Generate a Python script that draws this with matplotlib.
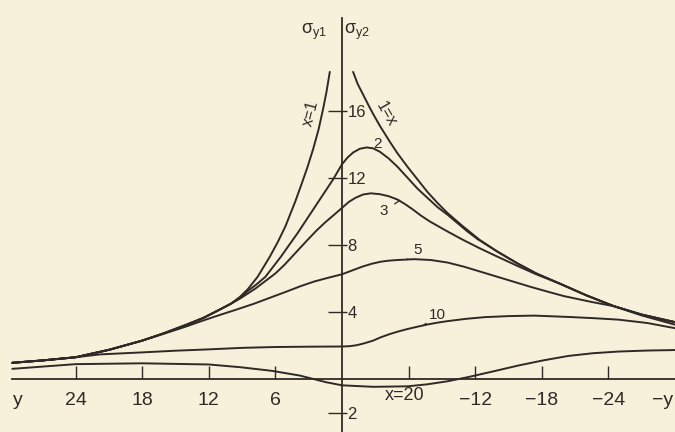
import matplotlib
matplotlib.use('Agg')
import matplotlib.pyplot as plt

# distance along the edge (y, positive to the left) and stress values
y_x1_left = [29.7, 27, 24, 21, 18, 16, 14, 12.5, 11.3, 10, 9.2, 8.5, 7.6, 6.5, 5.8, 5.1,
             4.2, 3.6, 3.1, 2.6, 2.1, 1.7, 1.4, 1.1]
s_x1_left = [0.98, 1.12, 1.31, 1.75, 2.3, 2.75, 3.25, 3.65, 4.05, 4.5, 4.9, 5.35, 6.1, 7.3, 8.15, 9.1,
             10.6, 11.7, 12.65, 13.7, 14.9, 16.1, 17.1, 18.3]

y_x1_right = [-1.0, -1.4, -1.9, -2.4, -2.8, -3.4, -4.3, -5.0, -5.9, -6.8, -7.7, -8.6, -9.5, -10.9,
              -12.4, -14.0, -15.8, -17.5, -19.6, -22.0, -24.5, -27.0, -30.0]
s_x1_right = [18.3, 17.6, 16.95, 16.3, 15.8, 15.1, 14.15, 13.45, 12.65, 11.9, 11.15, 10.5, 9.9, 9.1,
              8.3, 7.6, 6.9, 6.3, 5.7, 5.0, 4.35, 3.85, 3.4]

y_x2 = [29.7, 27, 24, 21, 18, 16, 14, 12.5, 11.3, 10, 9.2, 8.5, 7.7, 6.9, 6.2, 5.5, 4.7, 4.0,
        3.4, 2.8, 2.3, 1.8, 1.3, 0.8, 0.4, 0, -0.5, -1.0, -1.6, -2.2, -2.8, -3.4, -4.2, -5.0,
        -5.9, -6.8, -7.7, -8.6, -9.5, -10.4, -11.3, -12.2, -14.0, -15.8, -17.5, -19.6, -22.0,
        -24.5, -27.0, -30.0]
s_x2 = [0.98, 1.12, 1.31, 1.75, 2.3, 2.75, 3.25, 3.65, 4.05, 4.5, 4.85, 5.25, 5.65, 6.1, 6.7, 7.3, 8.05, 8.7,
        9.3, 9.9, 10.4, 10.9, 11.4, 11.9, 12.35, 12.8, 13.2, 13.5, 13.72, 13.8, 13.75, 13.55, 13.15, 12.65,
        12.0, 11.35, 10.8, 10.25, 9.8, 9.3, 8.8, 8.35, 7.6, 6.9, 6.3, 5.7, 5.0,
        4.35, 3.85, 3.4]

y_x3 = [29.7, 27, 24, 21, 18, 16, 14, 12.5, 11.3, 10, 9.2, 8.5, 7.8, 7.2, 6.0, 5.2, 4.5, 3.8,
        3.1, 2.3, 1.5, 0.7, 0, -0.6, -1.2, -1.9, -2.6, -3.4, -4.2, -5.0, -5.7, -6.4, -7.1, -7.9,
        -8.7, -9.5, -10.9, -12.4, -14.0, -15.8, -17.5, -19.6, -22.0, -24.5, -27.0, -30.0]
s_x3 = [0.98, 1.12, 1.31, 1.75, 2.3, 2.75, 3.25, 3.65, 4.05, 4.5, 4.8, 5.1, 5.4, 5.7, 6.3, 6.8, 7.3, 7.8,
        8.3, 8.85, 9.35, 9.8, 10.2, 10.55, 10.8, 11.0, 11.07, 11.02, 10.9, 10.7, 10.42, 10.1, 9.75, 9.4,
        9.1, 8.8, 8.3, 7.8, 7.3, 6.75, 6.25, 5.7, 5.0, 4.35, 3.85, 3.4]

y_x5 = [29.7, 27, 24, 21, 18, 16, 14, 12.5, 11, 9.5, 8, 6.5, 5, 3.7, 2.5, 1.2, 0, -1.0, -1.9,
        -2.7, -3.5, -4.2, -5.0, -6.5, -8.0, -9.5, -11.0, -12.5, -14.0, -15.5, -17.0, -18.5, -20.0,
        -22.5, -24.5, -27.0, -30.0]
s_x5 = [0.98, 1.12, 1.31, 1.75, 2.3, 2.72, 3.15, 3.5, 3.83, 4.15, 4.48, 4.85, 5.22, 5.55, 5.82, 6.05, 6.25,
        6.5, 6.72, 6.88, 7.0, 7.06, 7.1, 7.15, 7.1, 6.95, 6.7, 6.4, 6.1, 5.8, 5.5, 5.22, 4.95,
        4.6, 4.35, 3.8, 3.25]

y_x10 = [29.7, 27, 24, 21.8, 18, 15, 12, 9, 6, 3, 0, -0.7, -1.35, -2.0, -2.8, -3.5, -4.3, -5.1,
         -5.9, -6.8, -7.7, -8.6, -9.5, -11.2, -12.9, -15.0, -17.3, -20.4, -22.6, -24.9, -27.5, -30.0]
s_x10 = [0.98, 1.12, 1.31, 1.48, 1.6, 1.7, 1.78, 1.87, 1.92, 1.94, 1.95, 1.97, 2.03, 2.14, 2.3, 2.5, 2.69, 2.85,
         2.99, 3.13, 3.26, 3.37, 3.46, 3.6, 3.7, 3.76, 3.79, 3.71, 3.64, 3.55, 3.35, 3.04]

y_x20 = [29.7, 24, 18, 12, 9.2, 6.3, 3.8, 3.2, 1.4, 0, -2.8, -5.9, -7.7, -9.5, -11.3, -13.5,
         -15.9, -18.1, -20.4, -22.6, -24.9, -27.5, -30.0]
s_x20 = [0.62, 0.9, 0.95, 0.88, 0.72, 0.5, 0.22, 0.12, -0.18, -0.36, -0.45, -0.42, -0.3, -0.12, 0.12, 0.45,
         0.82, 1.12, 1.39, 1.55, 1.65, 1.71, 1.74]

y_ticks = [24, 18, 12, 6, -6, -12, -18, -24]
y_tick_labels = ['24', '18', '12', '6', '', '−12', '−18', '−24']
s_ticks = [16, 12, 8, 4, -2]
s_tick_labels = ['16', '12', '8', '4', '2']

paper = '#f7f1dc'
ink = '#2f2a26'

plt.rcParams['font.family'] = ['Liberation Sans', 'DejaVu Sans']

fig = plt.figure(figsize=(6.75, 4.32), dpi=100, facecolor=paper)
ax = fig.add_axes([0, 0, 1, 1], facecolor=paper)
ax.set_xlim(30.81, -30.0)
ax.set_ylim(-3.14, 22.58)

curves = [(y_x1_left, s_x1_left), (y_x1_right, s_x1_right), (y_x2, s_x2), (y_x3, s_x3),
          (y_x5, s_x5), (y_x10, s_x10), (y_x20, s_x20)]
for ys, ss in curves:
    ax.plot(ys, ss, color=ink, lw=1.4, solid_joinstyle='round', solid_capstyle='round')

# axes through the origin
ax.spines['top'].set_visible(False)
ax.spines['left'].set_visible(False)
ax.spines['bottom'].set_position(('data', 0))
ax.spines['bottom'].set_bounds(-30.0, 29.7)
ax.spines['right'].set_position(('data', 0))
ax.spines['right'].set_bounds(-3.14, 21.5)
for s in ['bottom', 'right']:
    ax.spines[s].set_color(ink)
    ax.spines[s].set_linewidth(1.3)

ax.xaxis.tick_bottom()
ax.yaxis.tick_right()
ax.set_xticks(y_ticks)
ax.set_xticklabels(y_tick_labels)
ax.tick_params(axis='x', direction='in', length=9.5, width=1.0, pad=9, labelsize=14,
               color=ink, labelcolor=ink)
ax.set_yticks(s_ticks)
ax.set_yticklabels(s_tick_labels)
ax.set_yticks(s_ticks, minor=True)
ax.yaxis.remove_overlapping_locs = False
ax.tick_params(axis='y', which='major', direction='in', length=10, width=1.0, pad=4,
               labelsize=12, color=ink, labelcolor=ink)
ax.tick_params(axis='y', which='minor', direction='out', length=3.5, width=1.0, color=ink)

# axis names
ax.annotate('y', xy=(29.2, 0), xytext=(0, -9), textcoords='offset points',
            ha='center', va='top', fontsize=14, color=ink)
ax.annotate('−y', xy=(-29.85, 0), xytext=(0, -9), textcoords='offset points',
            ha='right', va='top', fontsize=14, color=ink)
ax.text(1.35, 20.7, r'$\mathregular{σ_{y1}}$', ha='right', va='center', fontsize=13, color=ink)
ax.text(-0.15, 20.7, r'$\mathregular{σ_{y2}}$', ha='left', va='center', fontsize=13, color=ink)

# curve labels
ax.text(2.8, 15.85, 'x=1', rotation=76, ha='center', va='center', fontsize=11.5, color=ink)
ax.text(-3.95, 15.8, '1=x', rotation=-60, ha='center', va='center', fontsize=11.5, color=ink)
ax.annotate('2', xy=(-2.3, 13.8), xytext=(-3.2, 14.0), ha='center', va='center',
            fontsize=11, color=ink, arrowprops=dict(arrowstyle='-', color=ink, lw=0.9,
                                                     shrinkA=2, shrinkB=0))
ax.annotate('3', xy=(-5.2, 10.65), xytext=(-3.8, 10.0), ha='center', va='center',
            fontsize=11, color=ink, arrowprops=dict(arrowstyle='-', color=ink, lw=0.9,
                                                     shrinkA=3, shrinkB=0))
ax.annotate('5', xy=(-5.85, 7.12), xytext=(-6.85, 7.7), ha='center', va='center',
            fontsize=11, color=ink, arrowprops=dict(arrowstyle='-', color=ink, lw=0.9,
                                                     shrinkA=3, shrinkB=0))
ax.annotate('10', xy=(-7.3, 3.2), xytext=(-8.6, 3.8), ha='center', va='center',
            fontsize=11, color=ink, arrowprops=dict(arrowstyle='-', color=ink, lw=0.9,
                                                     shrinkA=4, shrinkB=0))
ax.text(-5.6, -0.95, 'x=20', ha='center', va='center', fontsize=13, color=ink)

fig.savefig('out.png', dpi=100, facecolor=paper)
